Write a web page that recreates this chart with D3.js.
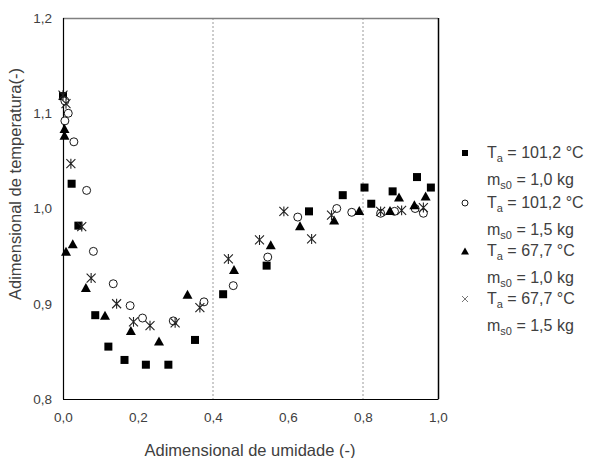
<!DOCTYPE html>
<html><head><meta charset="utf-8">
<script src="https://cdn.jsdelivr.net/npm/d3@7"></script>
<style>body{margin:0;background:#fff}svg{display:block}text{font-family:"Liberation Sans",Arial,sans-serif;fill:#404040}</style>
</head><body><svg id="c" width="598" height="458"></svg>
<script>
// Data
const sqX = [0.0, 0.023, 0.041, 0.086, 0.121, 0.164, 0.221, 0.281, 0.352, 0.427, 0.543, 0.656, 0.746, 0.804, 0.822, 0.879, 0.944, 0.981];
const sqY = [1.118, 1.026, 0.982, 0.888, 0.855, 0.841, 0.836, 0.836, 0.862, 0.910, 0.940, 0.997, 1.014, 1.022, 1.005, 1.018, 1.033, 1.022];
const ciX = [0.005, 0.005, 0.014, 0.029, 0.063, 0.081, 0.134, 0.179, 0.212, 0.294, 0.376, 0.454, 0.546, 0.626, 0.730, 0.770, 0.847, 0.884, 0.939, 0.961];
const ciY = [1.113, 1.092, 1.100, 1.070, 1.019, 0.955, 0.921, 0.898, 0.885, 0.882, 0.902, 0.919, 0.949, 0.991, 1.000, 0.996, 0.995, 0.997, 1.000, 0.995];
const trX = [0.004, 0.004, 0.008, 0.026, 0.061, 0.112, 0.181, 0.256, 0.332, 0.456, 0.554, 0.632, 0.723, 0.790, 0.872, 0.896, 0.937, 0.967];
const trY = [1.084, 1.077, 0.955, 0.963, 0.917, 0.888, 0.872, 0.861, 0.910, 0.936, 0.962, 0.982, 0.988, 0.998, 0.998, 1.012, 1.004, 1.013];
const stX = [0.0, 0.008, 0.021, 0.050, 0.075, 0.143, 0.188, 0.232, 0.299, 0.365, 0.441, 0.524, 0.589, 0.663, 0.716, 0.847, 0.903, 0.961];
const stY = [1.119, 1.110, 1.047, 0.981, 0.927, 0.900, 0.881, 0.877, 0.880, 0.896, 0.947, 0.967, 0.997, 0.968, 0.993, 0.997, 0.998, 1.001];
const xTicks = [0, 0.2, 0.4, 0.6, 0.8, 1.0];
const yTicks = [0.8, 0.9, 1.0, 1.1, 1.2];
const gridX = [0.4, 0.8];
const legendT = ["101,2 °C", "101,2 °C", "67,7 °C", "67,7 °C"];
const legendM = ["1,0 kg", "1,5 kg", "1,0 kg", "1,5 kg"];
const legendShape = ["square", "circle", "triangle", "cross"];

const svg = d3.select("#c");
const L = 63, R = 438, T = 18, B = 399;
const x = d3.scaleLinear().domain([0, 1]).range([L, R]);
const y = d3.scaleLinear().domain([0.8, 1.2]).range([B, T]);
const fmt = d => d.toFixed(1).replace(".", ",");

// grid
svg.selectAll(".g").data(gridX).enter().append("line")
  .attr("x1", d => x(d)).attr("x2", d => x(d)).attr("y1", T).attr("y2", B)
  .attr("stroke", "#9a9a9a").attr("stroke-width", 1).attr("stroke-dasharray", "2,2");

// frame
svg.append("line").attr("x1", L).attr("x2", R).attr("y1", T + 0.5).attr("y2", T + 0.5).attr("stroke", "#808080").attr("stroke-width", 1.3);
svg.append("line").attr("x1", L).attr("x2", R + 0.5).attr("y1", B + 0.5).attr("y2", B + 0.5).attr("stroke", "#000").attr("stroke-width", 1.2);
svg.append("line").attr("x1", L + 0.5).attr("x2", L + 0.5).attr("y1", T).attr("y2", B).attr("stroke", "#000").attr("stroke-width", 1.2);
svg.append("line").attr("x1", R + 0.5).attr("x2", R + 0.5).attr("y1", T).attr("y2", B).attr("stroke", "#000").attr("stroke-width", 1.5);

// axes (labels only)
const xa = svg.append("g").attr("transform", `translate(0,${B})`)
  .call(d3.axisBottom(x).tickValues(xTicks).tickFormat(fmt).tickSize(0).tickPadding(13));
const ya = svg.append("g").attr("transform", `translate(${L},0)`)
  .call(d3.axisLeft(y).tickValues(yTicks).tickFormat(fmt).tickSize(0).tickPadding(11));
[xa, ya].forEach(a => { a.select(".domain").remove(); a.selectAll("text").attr("font-size", 13.5).attr("font-family", "Liberation Sans, Arial, sans-serif").attr("fill", "#404040"); });

// axis titles
svg.append("text").attr("x", 250).attr("y", 456).attr("text-anchor", "middle").attr("font-size", 16.5).text("Adimensional de umidade (-)");
svg.append("text").attr("transform", "translate(21,184) rotate(-90)").attr("text-anchor", "middle").attr("font-size", 16.5).text("Adimensional de temperatura(-)");

// symbols
function drawShape(g, shape, cx, cy, s) {
  if (shape === "square") {
    g.append("rect").attr("x", cx - s / 2).attr("y", cy - s / 2).attr("width", s).attr("height", s).attr("fill", "#000");
  } else if (shape === "circle") {
    g.append("circle").attr("cx", cx).attr("cy", cy).attr("r", s / 2).attr("fill", "#fff").attr("stroke", "#000").attr("stroke-width", 0.9);
  } else if (shape === "triangle") {
    const h = s * 0.9;
    g.append("path").attr("d", `M${cx},${cy - h / 2}L${cx + s / 2},${cy + h / 2}L${cx - s / 2},${cy + h / 2}Z`).attr("fill", "#000");
  } else if (shape === "star") {
    const r = s / 2;
    g.append("path").attr("d", `M${cx - r},${cy - r}L${cx + r},${cy + r}M${cx - r},${cy + r}L${cx + r},${cy - r}M${cx},${cy - r * 1.1}L${cx},${cy + r * 1.1}`)
      .attr("stroke", "#222").attr("stroke-width", 1.1).attr("fill", "none");
  } else if (shape === "cross") {
    const r = s / 2;
    g.append("path").attr("d", `M${cx - r},${cy - r}L${cx + r},${cy + r}M${cx - r},${cy + r}L${cx + r},${cy - r}`)
      .attr("stroke", "#777").attr("stroke-width", 1).attr("fill", "none");
  }
}
const series = [
  {xs: sqX, ys: sqY, shape: "square", s: 8},
  {xs: ciX, ys: ciY, shape: "circle", s: 8},
  {xs: trX, ys: trY, shape: "triangle", s: 10},
  {xs: stX, ys: stY, shape: "star", s: 9}
];
series.forEach(se => {
  const g = svg.append("g");
  se.xs.forEach((v, i) => drawShape(g, se.shape, x(v), y(se.ys[i]), se.s));
});

// legend
const lg = svg.append("g");
const rowT = [153, 203, 251, 299];
legendT.forEach((t, i) => {
  const yT = rowT[i], yM = rowT[i] + 27;
  const sz = legendShape[i] === "triangle" ? 8 : 6;
  drawShape(lg, legendShape[i], 465, yT, sz);
  const t1 = lg.append("text").attr("x", 487).attr("y", yT + 5).attr("font-size", 16).attr("fill", "#222");
  t1.append("tspan").text("T");
  t1.append("tspan").attr("dy", 4).attr("font-size", 11).text("a");
  t1.append("tspan").attr("dy", -4).text(" = " + t);
  const t2 = lg.append("text").attr("x", 487).attr("y", yM + 5).attr("font-size", 16).attr("fill", "#222");
  t2.append("tspan").text("m");
  t2.append("tspan").attr("dy", 4).attr("font-size", 11).text("s0");
  t2.append("tspan").attr("dy", -4).text(" = " + legendM[i]);
});
</script></body></html>
